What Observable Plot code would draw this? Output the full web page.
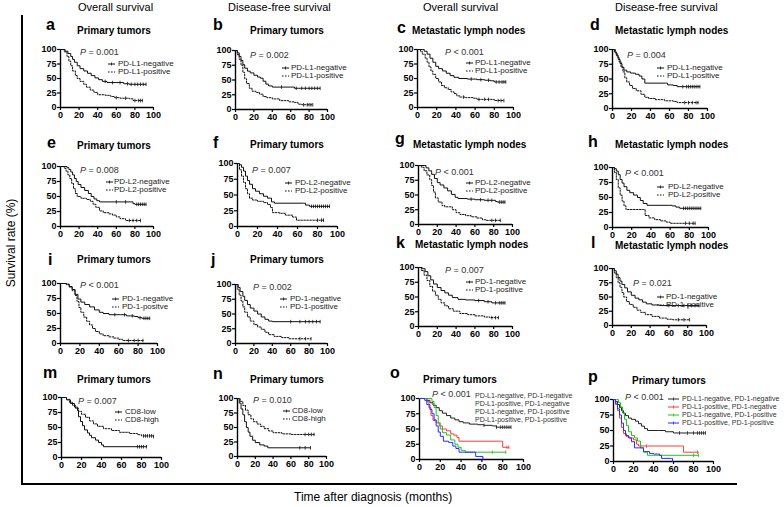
<!DOCTYPE html>
<html><head><meta charset="utf-8">
<script src="https://cdn.jsdelivr.net/npm/d3@7"></script>
<script src="https://cdn.jsdelivr.net/npm/@observablehq/plot@0.6"></script>
<style>
body{margin:0;background:#fff;}
#fig{position:relative;width:784px;height:507px;font-family:Arial,"Liberation Sans",sans-serif;overflow:hidden;background:#fff;}
.abs{position:absolute;white-space:nowrap;line-height:1;transform:translateY(-50%);}
.letter{font-weight:bold;font-size:16px;color:#000;}
.title{font-weight:bold;font-size:10px;color:#000;}
.pval{font-size:9px;color:#333;}
.leg{font-size:8px;color:#222;line-height:0.8;}
.leg4{font-size:7px;color:#333;line-height:0.8;}
.head{font-size:11px;color:#000;}
.axlab{font-size:12px;color:#000;}
</style></head><body><div id="fig"></div><script>
// ---- Data: Kaplan-Meier step curves [months, survival %] ----
const a_neg = [[0,100],[5,97],[8,93],[11,88],[13,83],[15,78],[18,72],[21,67],[25,63],[29,59],[33,55],[37,51],[41,48],[45,45],[50,43],[62,43],[68,41],[74,40],[92,40]];
const a_pos = [[0,100],[4,96],[7,88],[9,80],[11,72],[13,63],[16,55],[18,50],[21,45],[25,40],[28,35],[32,30],[36,26],[40,22],[48,21],[54,19],[58,17],[64,16],[74,15],[78,12],[88,12]];
const b_neg = [[0,100],[2,96],[4,90],[6,83],[8,76],[10,70],[13,65],[16,62],[20,58],[24,55],[27,53],[30,48],[33,43],[36,40],[40,38],[60,38],[64,36],[92,36]];
const b_pos = [[0,100],[2,93],[4,85],[6,75],[8,63],[10,52],[12,44],[15,36],[18,31],[22,29],[26,26],[30,22],[34,20],[40,18],[48,15],[58,13],[64,12],[68,9],[72,8],[84,8]];
const c_neg = [[0,100],[5,100],[7,97],[10,92],[13,85],[16,78],[19,71],[22,67],[26,63],[30,59],[34,55],[38,52],[43,50],[52,49],[62,48],[70,47],[76,46],[80,44],[92,44]];
const c_pos = [[0,100],[3,97],[5,92],[8,85],[10,78],[12,70],[14,63],[16,57],[19,50],[22,44],[25,38],[28,34],[32,31],[35,27],[38,24],[41,20],[44,18],[50,17],[58,16],[62,14],[76,14],[80,12],[90,12]];
const d_neg = [[0,100],[2,96],[4,90],[6,83],[8,76],[10,70],[12,65],[15,62],[19,60],[24,58],[28,55],[31,50],[34,43],[56,43],[58,40],[64,39],[68,37],[92,37]];
const d_pos = [[0,100],[3,94],[5,87],[7,79],[9,70],[11,62],[13,52],[15,45],[18,39],[21,34],[25,30],[30,24],[34,19],[38,17],[45,15],[55,13],[64,12],[68,10],[90,10]];
const e_neg = [[0,100],[7,98],[9,95],[11,91],[13,86],[15,80],[17,75],[19,70],[22,65],[26,60],[30,55],[33,50],[36,46],[39,43],[42,41],[75,41],[78,38],[80,37],[92,37]];
const e_pos = [[0,100],[4,97],[6,92],[8,86],[10,80],[12,72],[14,63],[16,55],[18,50],[22,47],[28,45],[32,42],[35,37],[38,32],[42,26],[46,23],[52,21],[56,19],[60,16],[64,13],[70,10],[86,10]];
const f_neg = [[0,100],[2,98],[4,94],[6,88],[8,80],[10,73],[12,67],[15,60],[18,56],[22,52],[26,48],[30,45],[34,39],[37,37],[66,37],[68,34],[72,32],[92,32]];
const f_pos = [[0,100],[2,90],[4,80],[6,70],[8,60],[10,52],[12,45],[15,42],[20,40],[26,38],[30,35],[33,30],[35,22],[42,21],[48,18],[55,15],[59,10],[86,10]];
const g_neg = [[0,100],[6,100],[8,96],[11,91],[14,85],[17,78],[20,71],[23,67],[27,62],[31,57],[35,51],[39,46],[42,44],[52,43],[60,42],[70,41],[82,39],[84,38],[92,38]];
const g_pos = [[0,100],[3,97],[6,91],[9,84],[12,76],[14,66],[16,55],[18,45],[21,38],[25,32],[28,30],[33,30],[36,25],[40,20],[44,17],[50,15],[56,13],[62,11],[68,8],[72,7],[87,7]];
const h_neg = [[0,100],[2,98],[4,94],[6,88],[8,80],[10,74],[12,68],[15,62],[18,58],[22,54],[26,50],[29,45],[32,40],[36,37],[58,37],[62,36],[66,34],[70,32],[92,32]];
const h_pos = [[0,100],[2,92],[4,80],[6,66],[8,54],[10,44],[12,36],[14,30],[32,30],[34,20],[38,16],[44,13],[50,11],[56,9],[60,7],[86,7]];
const i_neg = [[0,100],[6,99],[9,95],[12,90],[15,82],[18,74],[21,69],[25,65],[30,61],[35,56],[40,52],[44,50],[50,48],[62,48],[68,46],[76,45],[80,43],[84,42],[92,42]];
const i_pos = [[0,100],[6,98],[9,94],[12,88],[15,80],[17,70],[19,60],[21,52],[24,44],[27,37],[30,31],[33,25],[36,20],[40,16],[44,13],[50,11],[55,9],[60,7],[64,5],[85,5]];
const j_neg = [[0,100],[3,95],[5,88],[8,80],[10,73],[13,66],[16,60],[20,55],[24,50],[28,45],[32,41],[36,38],[40,37],[92,37]];
const j_pos = [[0,100],[2,92],[4,82],[6,72],[8,62],[10,53],[13,45],[16,38],[20,32],[24,28],[28,24],[32,19],[36,15],[42,12],[50,10],[58,8],[82,8]];
const k_neg = [[0,100],[4,98],[7,93],[10,86],[13,79],[16,72],[20,66],[24,61],[28,57],[32,53],[36,49],[42,46],[50,45],[60,44],[70,42],[78,40],[92,40]];
const k_pos = [[0,100],[3,95],[6,87],[9,78],[12,68],[15,60],[18,53],[21,46],[24,40],[28,35],[32,30],[37,26],[44,22],[52,20],[60,18],[70,16],[76,15],[85,15]];
const l_neg = [[0,100],[2,96],[4,90],[6,84],[8,78],[10,72],[13,66],[16,59],[20,53],[24,48],[28,45],[32,41],[36,38],[42,36],[50,35],[92,35]];
const l_pos = [[0,100],[2,92],[4,84],[6,75],[8,67],[10,58],[12,50],[15,42],[18,37],[22,32],[26,27],[30,23],[35,19],[42,16],[50,13],[58,11],[64,10],[82,10]];
const m_low = [[0,100],[5,96],[9,90],[13,84],[16,78],[17,68],[19,60],[21,53],[23,46],[26,41],[28,37],[30,33],[34,29],[37,25],[40,21],[42,18],[85,18]];
const m_high = [[0,100],[5,97],[8,92],[11,87],[14,82],[17,77],[20,72],[24,67],[28,61],[32,56],[36,52],[42,48],[50,45],[58,42],[68,40],[76,38],[80,36],[92,35]];
const n_low = [[0,100],[2,92],[4,82],[6,72],[8,60],[10,50],[12,42],[14,35],[17,28],[20,24],[25,20],[30,18],[34,15],[82,15]];
const n_high = [[0,100],[3,95],[6,88],[9,80],[12,72],[15,65],[18,60],[22,56],[26,52],[30,48],[35,44],[40,41],[50,39],[60,38],[86,38]];
const o_nn = [[0,100],[5,100],[7,97],[10,93],[13,89],[16,85],[19,80],[22,76],[26,72],[30,68],[34,65],[38,62],[42,60],[48,58],[56,57],[62,56],[70,55],[74,53],[88,53]];
const o_pn = [[0,100],[5,100],[7,95],[9,85],[11,72],[13,64],[16,60],[19,55],[22,50],[26,47],[30,42],[33,40],[36,36],[38,30],[78,30],[80,20],[86,20]];
const o_np = [[0,100],[10,100],[12,95],[14,85],[16,72],[18,60],[20,50],[22,44],[26,40],[30,32],[34,25],[37,20],[40,15],[44,12],[83,12]];
const o_pp = [[0,100],[5,97],[7,90],[10,82],[12,75],[14,65],[16,55],[18,45],[20,38],[23,30],[28,28],[32,22],[35,18],[38,12],[52,12],[54,5],[61,5],[61,0]];
const p_nn = [[0,100],[2,97],[4,92],[6,87],[8,82],[10,78],[12,74],[15,70],[18,68],[22,65],[25,61],[28,57],[31,53],[34,50],[45,50],[52,48],[60,46],[92,46]];
const p_pn = [[0,100],[2,92],[4,82],[6,70],[8,55],[10,45],[13,40],[16,38],[20,35],[23,28],[25,25],[68,25],[70,15],[85,15]];
const p_np = [[0,100],[3,100],[5,95],[7,88],[9,78],[11,68],[13,58],[15,48],[18,42],[21,38],[24,33],[27,22],[30,15],[34,10],[85,10]];
const p_pp = [[0,100],[2,94],[4,85],[6,75],[8,62],[10,50],[12,42],[15,38],[18,32],[21,22],[28,22],[30,16],[36,13],[40,12],[46,10],[48,5],[58,5],[59,0]];

// censoring times
const a_neg_c = [48,56,64,72,76,80,83,86,89,92], a_pos_c = [60,70,80,84,86,88];
const b_neg_c = [50,66,72,76,80,83,86,89,92], b_pos_c = [74,78,80,82,84];
const c_neg_c = [56,66,74,82,85,88,90,92], c_pos_c = [48,64,70,74,84,87,90];
const d_neg_c = [74,78,80,82,84,86,88,90,92], d_pos_c = [76,80,84,88,90];
const e_neg_c = [60,70,82,84,86,88,90,92], e_pos_c = [74,78,82,86];
const f_neg_c = [74,76,78,80,82,84,86,88,90,92], f_pos_c = [80,84,86];
const g_neg_c = [56,66,74,78,86,88,90,92], g_pos_c = [78,82,87];
const h_neg_c = [74,76,78,80,82,84,86,88,90,92], h_pos_c = [76,80,84,86];
const i_neg_c = [56,66,74,82,86,88,90,92], i_pos_c = [70,76,80,85];
const j_neg_c = [60,70,76,80,84,88,92], j_pos_c = [70,76,82];
const k_neg_c = [64,74,82,86,88,90,92], k_pos_c = [78,82,85];
const l_neg_c = [60,70,76,80,84,88,92], l_pos_c = [70,76,82];
const m_low_c = [76,78,80,82,85], m_high_c = [82,84,86,88,90,92];
const n_low_c = [70,76,82], n_high_c = [76,80,83,86];
const o_nn_c = [62,74,78,80,82,84,86,88], o_pn_c = [84,86], o_np_c = [70,83], o_pp_c = [];
const p_nn_c = [66,74,80,84,86,88,90,92], p_pn_c = [33,84], p_np_c = [80,85], p_pp_c = [];

// labels
const headers = ["Overall survival","Disease-free survival","Overall survival","Disease-free survival"];
const pvals = {a:"= 0.001",b:"= 0.002",c:"< 0.001",d:"= 0.004",e:"= 0.008",f:"= 0.007",g:"< 0.001",h:"< 0.001",i:"< 0.001",j:"= 0.002",k:"= 0.007",l:"= 0.021",m:"= 0.007",n:"= 0.010",o:"< 0.001",p:"< 0.001"};
const titlePT = "Primary tumors", titleLN = "Metastatic lymph nodes";
const legL1 = ["PD-L1-negative","PD-L1-positive"];
const legL2 = ["PD-L2-negative","PD-L2-positive"];
const legP1i = ["PD-1-negative","PD-1-positve"];
const legP1 = ["PD-1-negative","PD-1-positive"];
const legCD8 = ["CD8-low","CD8-high"];
const leg4 = ["PD-L1-negative, PD-1-negative","PD-L1-positive, PD-1-negative","PD-L1-negative, PD-1-positive","PD-L1-positive, PD-1-positive"];
const xTicks = [0,20,40,60,80,100];
const yTicks = [0,25,50,75,100];
const col4 = ["#222222","#ff3b3b","#22c322","#2b2bff"];

// ---- Layout (pixel positions of frames/annotations) ----
const P2 = (id, title, leg, curves, cens, box, L, T, Pp, G) => ({id, title, leg, curves, cens, box, L, T, Pp, G});
const panels = [
 P2("a",titlePT,legL1,[a_neg,a_pos],[a_neg_c,a_pos_c],[60,153,49,107],[46,25],[77,31],[80,52],[108,118,63.5,71.5]),
 P2("b",titlePT,legL1,[b_neg,b_pos],[b_neg_c,b_pos_c],[235,327,50,109],[213,25],[250,31],[250,55],[282,291,68,76]),
 P2("c",titleLN,legL1,[c_neg,c_pos],[c_neg_c,c_pos_c],[417,513,49,107],[397,28],[412,31],[445,52],[466,475,63,71]),
 P2("d",titleLN,legL1,[d_neg,d_pos],[d_neg_c,d_pos_c],[612,707,49,108],[590,25],[615,31],[627,55],[657,667,67.5,75.5]),
 P2("e",titlePT,legL2,[e_neg,e_pos],[e_neg_c,e_pos_c],[60,153,166,226],[47,142.5],[77,146],[80,170],[106,114,182,190]),
 P2("f",titlePT,legL2,[f_neg,f_pos],[f_neg_c,f_pos_c],[237,337,163,226],[213,142.5],[250,145],[252,170],[285,295,182.5,190.5]),
 P2("g",titleLN,legL2,[g_neg,g_pos],[g_neg_c,g_pos_c],[418,512,165,224],[395,139],[413,145],[435,172],[466,475,183,191]),
 P2("h",titleLN,legL2,[h_neg,h_pos],[h_neg_c,h_pos_c],[612,708,167,227],[588,141.5],[615,145],[625,173],[657,668,186.5,194.5]),
 P2("i",titlePT,legP1i,[i_neg,i_pos],[i_neg_c,i_pos_c],[60,157,283,343],[48,259.5],[77,260],[80,285],[112,122,299,307]),
 P2("j",titlePT,legP1,[j_neg,j_pos],[j_neg_c,j_pos_c],[235,327,284,343],[211,259.5],[250,260],[253,287],[280,290,299,307]),
 P2("k",titleLN,legP1,[k_neg,k_pos],[k_neg_c,k_pos_c],[418,512,267,326],[396,243],[415,245],[445,270],[466,475,282,290]),
 P2("l",titleLN,legP1,[l_neg,l_pos],[l_neg_c,l_pos_c],[612,706,268,325],[591,243],[615,246],[633,283],[657,666,297,305]),
 P2("m",titlePT,legCD8,[m_low,m_high],[m_low_c,m_high_c],[61,161,397,457],[43,372.5],[77,380],[78,401],[115,125,411.5,419.5]),
 P2("n",titlePT,legCD8,[n_low,n_high],[n_low_c,n_high_c],[237,326,398,456],[213,374],[250,380],[253,400],[283,292,410.5,418.5]),
 P2("o",titlePT,leg4,[o_nn,o_pn,o_np,o_pp],[o_nn_c,o_pn_c,o_np_c,o_pp_c],[419,523,398,459],[390,372.5],[423,380],[432,394],{text:475, ys:[396,404,412,420]}),
 P2("p",titlePT,leg4,[p_nn,p_pn,p_np,p_pp],[p_nn_c,p_pn_c,p_np_c,p_pp_c],[613,713,399,461],[588,376.5],[632,381],[625,397],{sample:668, text:682, ys:[399,407,415,423]})
];

const fig = document.getElementById("fig");
const NS = "http://www.w3.org/2000/svg";
function addText(txt, x, cy, cls, html) {
  const d = document.createElement("div");
  d.className = "abs " + cls;
  d.style.left = x + "px"; d.style.top = cy + "px";
  if (html) d.innerHTML = txt; else d.textContent = txt;
  fig.appendChild(d); return d;
}
function addSample(x, cy, w, color, dash) {
  const s = document.createElementNS(NS, "svg");
  s.setAttribute("width", w); s.setAttribute("height", 6);
  s.style.position = "absolute"; s.style.left = x + "px"; s.style.top = (cy - 3) + "px";
  const l = document.createElementNS(NS, "line");
  l.setAttribute("x1", 0); l.setAttribute("x2", w); l.setAttribute("y1", 3); l.setAttribute("y2", 3);
  l.setAttribute("stroke", color); l.setAttribute("stroke-width", 1);
  if (dash) l.setAttribute("stroke-dasharray", "1.6,1.4");
  s.appendChild(l);
  if (!dash) {
    const t = document.createElementNS(NS, "line");
    t.setAttribute("x1", w/2); t.setAttribute("x2", w/2); t.setAttribute("y1", 1.5); t.setAttribute("y2", 4.5);
    t.setAttribute("stroke", color); t.setAttribute("stroke-width", 0.8);
    s.appendChild(t);
  }
  fig.appendChild(s);
}
function stepAt(data, t) {
  let v = data[0][1];
  for (const d of data) { if (d[0] <= t) v = d[1]; else break; }
  return v;
}
const censorSymbol = { draw(ctx, size) { const r = Math.sqrt(size / Math.PI); ctx.moveTo(0, -r); ctx.lineTo(0, r); } };

// bracket + global labels
const br = document.createElement("div");
br.style.cssText = "position:absolute;left:21px;top:15px;width:714px;height:468px;border-left:2px solid #000;border-bottom:2px solid #000;";
fig.appendChild(br);
[78, 228, 423, 615].forEach((x, i) => addText(headers[i], x, 7, "head"));
const yl = addText("Survival rate (%)", 11, 243, "axlab");
yl.style.transform = "translate(-50%,-50%) rotate(-90deg)";
addText("Time after diagnosis (months)", 294, 497, "axlab");

const mL = 24, mR = 5, mT = 3, mB = 15;
for (const p of panels) {
  const [x0, x1, yt, yb] = p.box;
  const four = p.curves.length === 4;
  const marks = [
    Plot.axisX({ticks: xTicks, tickSize: 3, tickPadding: 1, strokeWidth: 1.2, label: null}),
    Plot.axisY({ticks: yTicks, tickSize: 3, tickPadding: 1, strokeWidth: 1.2, label: null}),
    Plot.ruleX([0], {strokeWidth: 1.4}),
    Plot.ruleY([0], {strokeWidth: 1.4})
  ];
  p.curves.forEach((c, k) => {
    const color = four ? col4[k] : "#111";
    const dash = !four && k === 1;
    marks.push(Plot.line(c, {x: d => d[0], y: d => d[1], curve: "step-after", stroke: color, strokeWidth: 1, strokeDasharray: dash ? "1.6,1.4" : null}));
    const cs = p.cens[k].map(t => [t, stepAt(c, t)]);
    marks.push(Plot.dot(cs, {x: d => d[0], y: d => d[1], symbol: censorSymbol, r: 1.8, stroke: color, strokeWidth: 0.8, fill: "none"}));
  });
  const svg = Plot.plot({
    width: (x1 - x0) + mL + mR, height: (yb - yt) + mT + mB,
    marginLeft: mL, marginRight: mR, marginTop: mT, marginBottom: mB,
    x: {domain: [0, 100]}, y: {domain: [0, 100]},
    style: {fontFamily: 'Arial, "Liberation Sans", sans-serif', fontSize: "9px", fontWeight: "bold", color: "#000", background: "transparent", overflow: "visible"},
    marks
  });
  svg.style.position = "absolute";
  svg.style.left = (x0 - mL) + "px";
  svg.style.top = (yt - mT) + "px";
  svg.style.maxWidth = "none";
  fig.appendChild(svg);

  addText(p.id, p.L[0], p.L[1], "letter");
  addText(p.title, p.T[0], p.T[1], "title");
  addText("<i>P</i> " + pvals[p.id], p.Pp[0], p.Pp[1], "pval", true);
  if (!four) {
    const [sx, tx, c1, c2] = p.G;
    addSample(sx, c1, 7, "#111", false);
    addSample(sx, c2, 7, "#111", true);
    addText(p.leg[0], tx, c1, "leg");
    addText(p.leg[1], tx, c2, "leg");
  } else {
    p.G.ys.forEach((cy, k) => {
      if (p.G.sample != null) addSample(p.G.sample, cy, 11, col4[k], false);
      addText(p.leg[k], p.G.text, cy, "leg4");
    });
  }
}
</script></body></html>
